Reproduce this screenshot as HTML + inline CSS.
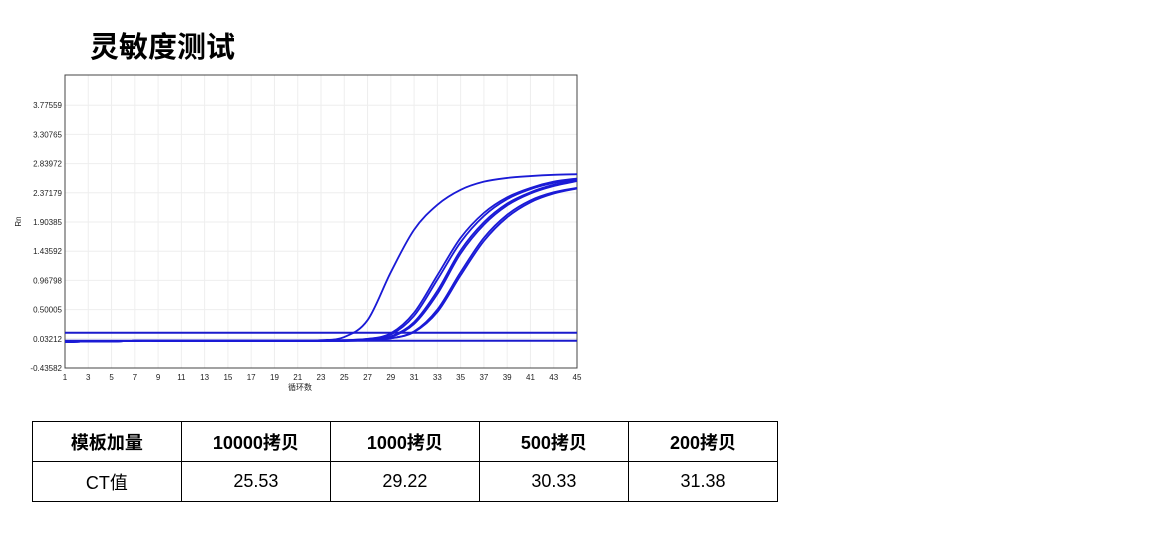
<!DOCTYPE html>
<html><head><meta charset="utf-8"><style>
body{margin:0;width:1157px;height:537px;background:#fff;position:relative;overflow:hidden;font-family:"Liberation Sans","Noto Sans CJK SC",sans-serif}
#title{position:absolute;left:90px;top:24px;font-size:29px;font-weight:bold;color:#000;margin:0}
#chart{position:absolute;left:0;top:60px}
table{position:absolute;left:32px;top:421px;border-collapse:collapse;width:746px}
td{border:1.5px solid #000;height:39px;text-align:center;font-size:18px;width:149px;padding:0}
tr.h td{font-weight:bold}
</style></head><body>
<h1 id="title">灵敏度测试</h1>
<svg id="chart" width="600" height="340"></svg>
<table>
<tr class="h"><td>模板加量</td><td>10000拷贝</td><td>1000拷贝</td><td>500拷贝</td><td>200拷贝</td></tr>
<tr><td>CT值</td><td>25.53</td><td>29.22</td><td>30.33</td><td>31.38</td></tr>
</table>
<script>
const cycles=[1,3,5,7,9,11,13,15,17,19,21,23,25,27,29,31,33,35,37,39,41,43,45];
const yTicks=[-0.43582,0.03212,0.50005,0.96798,1.43592,1.90385,2.37179,2.83972,3.30765,3.77559];
const seriesA=[-0.02,-0.01,-0.01,0,0,0,0,0,0,0,0,0.01,0.06,0.33,1.1,1.78,2.18,2.42,2.55,2.61,2.64,2.66,2.67];
const seriesB=[-0.02,-0.01,-0.01,0,0,0,0,0,0,0,0,0,0.01,0.03,0.12,0.45,1.05,1.65,2.05,2.3,2.45,2.55,2.6];
const seriesB2=[-0.02,-0.01,-0.01,0,0,0,0,0,0,0,0,0,0.01,0.03,0.1,0.4,0.98,1.58,2.0,2.27,2.43,2.53,2.59];
const seriesC=[-0.02,-0.01,-0.01,0,0,0,0,0,0,0,0,0,0,0.02,0.07,0.3,0.8,1.45,1.9,2.2,2.38,2.5,2.57];
const seriesC2=[-0.02,-0.01,-0.01,0,0,0,0,0,0,0,0,0,0,0.02,0.06,0.27,0.75,1.4,1.86,2.17,2.36,2.48,2.56];
const seriesD=[-0.02,-0.01,-0.01,0,0,0,0,0,0,0,0,0,0,0.01,0.04,0.15,0.5,1.1,1.65,2.02,2.25,2.38,2.45];
const seriesD2=[-0.02,-0.01,-0.01,0,0,0,0,0,0,0,0,0,0,0.01,0.04,0.14,0.46,1.05,1.6,1.98,2.22,2.36,2.44];
const baseline=[0,0];
const threshold=[0.13,0.13];
const series=[seriesA,seriesB,seriesB2,seriesC,seriesC2,seriesD,seriesD2];
const ns="http://www.w3.org/2000/svg";
const svg=document.getElementById('chart');
const L=65,R=577,T=15,B=308;
const xs=c=>L+(c-1)/44*(R-L);
const ys=v=>B-(v+0.43582)/0.46794*29.2;
function mk(t,a){const e=document.createElementNS(ns,t);for(const k in a)e.setAttribute(k,a[k]);svg.appendChild(e);return e;}
for(const c of cycles){
const g=mk('line',{x1:xs(c),x2:xs(c),y1:T,y2:B,stroke:'#eeeeee','stroke-width':1});


const t=mk('text',{x:xs(c),y:B+12,'font-size':8,'text-anchor':'middle',fill:'#222'});
t.textContent=c;


}
for(const v of yTicks){
const g=mk('line',{x1:L,x2:R,y1:ys(v),y2:ys(v),stroke:'#eeeeee','stroke-width':1});


const t=mk('text',{x:L-3,y:ys(v)+3,'font-size':8,'text-anchor':'end',fill:'#222'});
t.textContent=v.toFixed(5);


}
const box=mk('rect',{x:L,y:T,width:R-L,height:B-T,fill:'none',stroke:'#444','stroke-width':1});


const xt=mk('text',{x:300,y:B+22,'font-size':8,'text-anchor':'middle',fill:'#222'});
xt.textContent='循环数';


const yt=mk('text',{x:0,y:0,'font-size':8,'text-anchor':'middle',fill:'#222',transform:`translate(21,${(T+B)/2}) rotate(-90)`});
yt.textContent='Rn';


const th=mk('line',{x1:L,x2:R,y1:ys(threshold[0]),y2:ys(threshold[1]),stroke:'#1a1acc','stroke-width':2});


const bl=mk('line',{x1:L,x2:R,y1:ys(baseline[0]),y2:ys(baseline[1]),stroke:'#1a1acc','stroke-width':2});


function smooth(pts){let d=`M${pts[0][0]},${pts[0][1]}`;for(let i=0;i<pts.length-1;i++){const p0=pts[i-1]||pts[i],p1=pts[i],p2=pts[i+1],p3=pts[i+2]||p2;d+=` C${p1[0]+(p2[0]-p0[0])/6},${p1[1]+(p2[1]-p0[1])/6} ${p2[0]-(p3[0]-p1[0])/6},${p2[1]-(p3[1]-p1[1])/6} ${p2[0]},${p2[1]}`;}return d;}
series.forEach((s,i)=>{
const p=mk('path',{d:smooth(cycles.map((c,j)=>[xs(c),ys(s[j])])),fill:'none',stroke:'#1a1ad6','stroke-width':1.8});


});
</script>
</body></html>
